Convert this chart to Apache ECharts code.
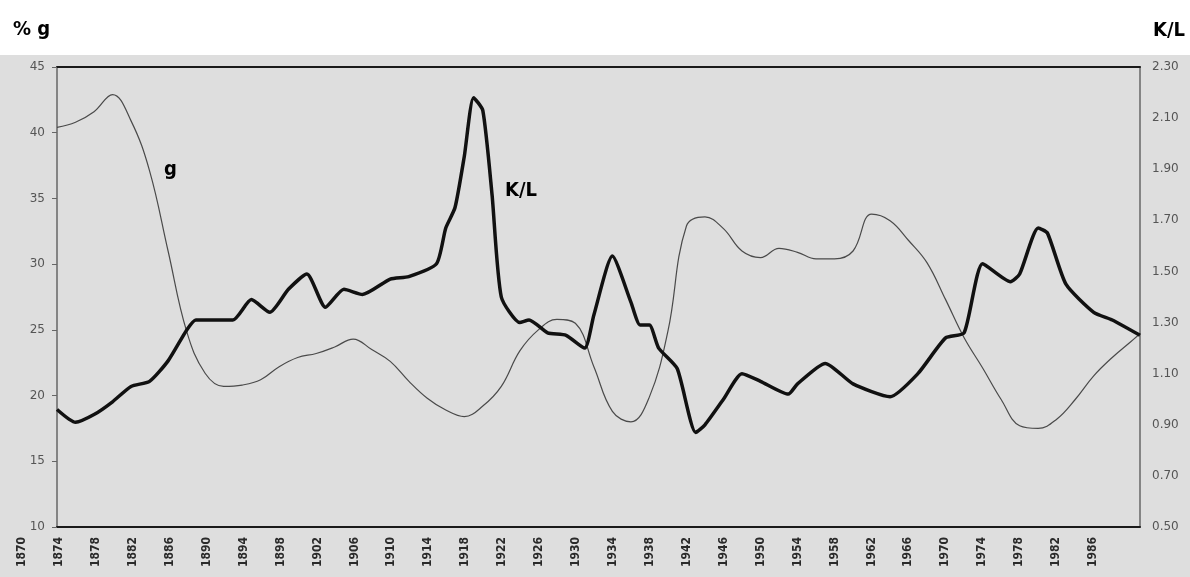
<!DOCTYPE html>
<html>
<head>
<meta charset="utf-8">
<style>
  html, body { margin: 0; padding: 0; }
  body { background: linear-gradient(#fff 0, #fff 55px, #dedede 55px); }
  #chart { width: 1190px; height: 577px; }
</style>
<script src="https://cdn.jsdelivr.net/npm/echarts@6.0.0/dist/echarts.min.js"></script>
</head>
<body>
<div id="chart"></div>
<script>
// tasa de ganancia g (%), eje izquierdo
const gYears = [1870, 1872, 1874, 1876, 1878, 1880, 1882, 1884, 1886, 1888, 1890, 1892, 1894, 1896, 1898,
  1900, 1902, 1904, 1906, 1908, 1910, 1912, 1914, 1916, 1918, 1920, 1922, 1924, 1926, 1928,
  1930, 1932, 1934, 1936, 1938, 1940, 1942, 1944, 1946, 1948, 1950, 1952, 1954, 1956, 1958,
  1960, 1962, 1964, 1966, 1968, 1970, 1972, 1974, 1976, 1978, 1980, 1982, 1984, 1986, 1987];
const gValues = [40.4, 40.8, 41.6, 42.9, 40.9, 37.1, 31.0, 24.9, 21.7, 20.7, 20.8, 21.2, 22.2, 22.9, 23.2,
  23.7, 24.3, 23.5, 22.6, 21.1, 19.8, 18.9, 18.4, 19.2, 20.7, 23.4, 25.0, 25.8, 25.5, 22.2,
  18.8, 18.0, 19.9, 24.9, 32.9, 33.6, 32.7, 31.0, 30.5, 31.2, 30.9, 30.4, 30.4, 31.0, 33.8,
  33.3, 31.8, 30.1, 27.3, 24.4, 22.1, 19.7, 17.7, 17.5, 18.2, 19.7, 21.5, 22.9, 24.1, 24.7];

// relacion K/L, eje derecho
const klYears = [1870, 1872, 1874, 1876, 1878, 1880, 1882, 1884, 1885, 1889, 1891, 1893, 1895, 1897, 1899,
  1901, 1903, 1906, 1908, 1911, 1912, 1913, 1914, 1915, 1916, 1917, 1918, 1920, 1921, 1923,
  1925, 1927, 1928, 1930, 1932, 1933, 1934, 1935, 1937, 1939, 1940, 1942, 1944, 1946, 1949,
  1950, 1953, 1956, 1960, 1963, 1966, 1968, 1970, 1973, 1974, 1976, 1977, 1979, 1982, 1984, 1987];
const klValues = [0.96, 0.91, 0.94, 0.99, 1.05, 1.07, 1.15, 1.27, 1.31, 1.31, 1.39, 1.34, 1.43, 1.49, 1.36,
  1.43, 1.41, 1.47, 1.48, 1.53, 1.67, 1.75, 1.95, 2.18, 2.13, 1.80, 1.40, 1.30, 1.31, 1.26,
  1.25, 1.20, 1.33, 1.56, 1.38, 1.29, 1.29, 1.20, 1.12, 0.87, 0.90, 1.00, 1.10, 1.07, 1.02,
  1.06, 1.14, 1.06, 1.01, 1.10, 1.24, 1.26, 1.53, 1.46, 1.49, 1.67, 1.65, 1.45, 1.34, 1.31, 1.25];

// etiquetas del eje de años (en el original van corridas hacia la izquierda)
const yearLabels = ['1870', '1874', '1878', '1882', '1886', '1890', '1894', '1898', '1902', '1906',
  '1910', '1914', '1918', '1922', '1926', '1930', '1934', '1938', '1942', '1946',
  '1950', '1954', '1958', '1962', '1966', '1970', '1974', '1978', '1982', '1986'];

const boldFont = 'bold 20px "DejaVu Sans Condensed", "DejaVu Sans", sans-serif';

const chart = echarts.init(document.getElementById('chart'));

const option = {
  animation: false,
  grid: [
    { left: 57, right: 50, top: 67, bottom: 50 },
    { left: 22, width: 1071, top: 67, bottom: 50 }
  ],
  xAxis: [
    {
      type: 'value', gridIndex: 0, min: 1870, max: 1987,
      axisLine: { onZero: false, lineStyle: { color: '#1a1a1a', width: 2 } },
      axisTick: { show: false }, axisLabel: { show: false }, splitLine: { show: false }
    },
    {
      type: 'value', gridIndex: 0, position: 'top', min: 1870, max: 1987,
      axisLine: { onZero: false, lineStyle: { color: '#1a1a1a', width: 2 } },
      axisTick: { show: false }, axisLabel: { show: false }, splitLine: { show: false }
    },
    {
      type: 'category', gridIndex: 1, boundaryGap: false, data: yearLabels,
      axisLine: { show: false }, axisTick: { show: false }, splitLine: { show: false },
      axisLabel: { interval: 0, rotate: 90, margin: 10, fontSize: 12, fontWeight: 'bold', color: '#2a2a2a', fontFamily: 'DejaVu Sans Condensed' }
    }
  ],
  yAxis: [
    {
      type: 'value', gridIndex: 0, position: 'left', min: 10, max: 45, interval: 5,
      axisLine: { show: true, onZero: false, lineStyle: { color: '#666', width: 1.5 } },
      axisTick: { show: true, length: 5, lineStyle: { color: '#666' } },
      axisLabel: { margin: 12, fontSize: 12, color: '#555', fontFamily: 'DejaVu Sans' },
      splitLine: { show: false }
    },
    {
      type: 'value', gridIndex: 0, position: 'right', min: 0.5, max: 2.3, interval: 0.1,
      axisLine: { show: true, onZero: false, lineStyle: { color: '#666', width: 1.5 } },
      axisTick: { show: false },
      axisLabel: {
        margin: 12, fontSize: 12, color: '#555', fontFamily: 'DejaVu Sans',
        formatter: function (v) {
          const k = Math.round(v * 10);
          return (k - 5) % 2 === 0 ? (k / 10).toFixed(2) : '';
        }
      },
      splitLine: { show: false }
    },
    { type: 'value', gridIndex: 1, show: false, min: 0, max: 1 }
  ],
  graphic: [
    { type: 'text', left: 13, top: 20, style: { text: '% g', font: boldFont, fill: '#000' } },
    { type: 'text', right: 5, top: 21, style: { text: 'K/L', font: boldFont, fill: '#000' } },
    { type: 'text', left: 164, top: 160, style: { text: 'g', font: boldFont, fill: '#000' } },
    { type: 'text', left: 505, top: 181, style: { text: 'K/L', font: boldFont, fill: '#000' } }
  ],
  series: [
    {
      name: 'g', type: 'line', xAxisIndex: 0, yAxisIndex: 0,
      data: gYears.map((y, i) => [y, gValues[i]]),
      symbol: 'none', smooth: 0.4,
      lineStyle: { color: '#4a4a4a', width: 1.2 }
    },
    {
      name: 'K/L', type: 'line', xAxisIndex: 0, yAxisIndex: 1,
      data: klYears.map((y, i) => [y, klValues[i]]),
      symbol: 'none', smooth: 0.2,
      lineStyle: { color: '#111', width: 3.5 }
    }
  ]
};

chart.setOption(option);
</script>
</body>
</html>
